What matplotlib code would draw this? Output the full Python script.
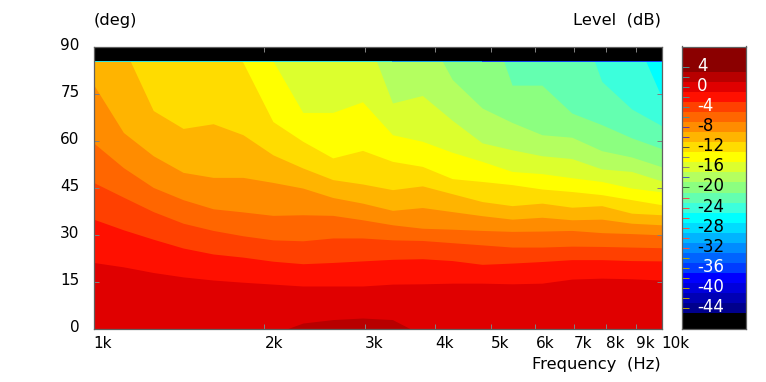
import matplotlib
matplotlib.use('Agg')
import matplotlib.pyplot as plt
import numpy as np
from matplotlib.transforms import ScaledTranslation

# frequency columns of the measurement (Hz)
freqs = [1000, 1129, 1274, 1438, 1624, 1833, 2069, 2336, 2637, 2976,
         3360, 3793, 4281, 4833, 5456, 6158, 6952, 7848, 8859, 10000]

# angle (deg) of each contour at each frequency
# values outside 0..85 are where the contour has left the plot
contour_1 = [-2, -2, -2, -2, -2, -2, -1.6, 1.9, 3.0, 3.5, 3.0, -1.9, -2, -2, -2, -2, -2, -2, -2, -2]
contour_m1 = [21.2, 19.8, 18.0, 16.6, 15.6, 14.9, 14.3, 13.7, 13.7, 13.7, 14.3, 14.4, 14.6, 14.6, 14.4, 14.6, 15.9, 16.2, 16.0, 15.6]
contour_m3 = [35.0, 31.6, 28.6, 25.8, 23.9, 22.9, 21.6, 20.8, 21.2, 21.7, 22.2, 22.4, 21.8, 20.6, 21.0, 21.5, 22.1, 22.1, 21.8, 21.7]
contour_m5 = [46.7, 42.0, 37.4, 33.7, 31.4, 29.7, 28.4, 28.1, 29.0, 29.0, 28.4, 28.2, 27.5, 26.8, 26.1, 26.1, 26.4, 26.3, 26.1, 25.9]
contour_m7 = [59.3, 51.4, 45.1, 41.2, 38.3, 37.3, 36.2, 36.4, 36.2, 34.8, 33.2, 32.1, 31.8, 31.4, 31.1, 31.2, 31.4, 30.7, 30.4, 30.0]
contour_m9 = [77.9, 62.6, 55.2, 49.9, 48.3, 48.3, 46.7, 44.9, 41.9, 40.1, 37.8, 38.7, 37.4, 36.1, 35.0, 35.6, 34.8, 35.0, 33.7, 33.2]
contour_m11 = [110, 90, 69.6, 63.9, 65.4, 61.9, 55.5, 51.3, 47.6, 46.2, 44.4, 45.6, 43.1, 40.6, 39.3, 40.1, 38.8, 39.3, 36.9, 36.4]
contour_m13 = [110, 110, 110, 110, 95, 84.9, 66.1, 59.8, 54.5, 56.9, 53.4, 51.8, 47.9, 47.0, 46.0, 44.6, 43.8, 42.8, 41.2, 39.6]
contour_m15 = [110, 110, 110, 110, 110, 110, 85.5, 69.0, 69.0, 72.4, 61.9, 59.8, 56.3, 53.4, 50.2, 49.5, 48.2, 47.0, 44.9, 43.7]
contour_m17 = [110, 110, 110, 110, 110, 110, 110, 110, 110, 97, 72.0, 74.4, 66.5, 59.3, 57.1, 55.2, 54.3, 51.0, 50.2, 47.2]
contour_m19 = [110, 110, 110, 110, 110, 110, 110, 110, 110, 110, 110, 97, 79.5, 70.4, 65.8, 61.9, 61.1, 56.8, 54.8, 51.7]
contour_m21 = [110, 110, 110, 110, 110, 110, 110, 110, 110, 110, 110, 110, 110, 105, 77.7, 77.7, 68.8, 65.1, 60.9, 57.5]
contour_m23 = [110, 110, 110, 110, 110, 110, 110, 110, 110, 110, 110, 110, 110, 110, 110, 110, 105, 78.9, 70.1, 64.8]
contour_m25 = [110, 110, 110, 110, 110, 110, 110, 110, 110, 110, 110, 110, 110, 110, 110, 110, 110, 110, 95.6, 73.9]
contours = [contour_m1, contour_m3, contour_m5, contour_m7, contour_m9, contour_m11, contour_m13,
            contour_m15, contour_m17, contour_m19, contour_m21, contour_m23, contour_m25]

max_angle = 85.4

# colour scale, from the top of the bar downwards: one colour per 2 dB step
scale_edges = [8.1, 3, 1, -1, -3, -5, -7, -9, -11, -13, -15, -17, -19, -21, -23, -25, -27,
               -29, -31, -33, -35, -37, -39, -41, -43, -45, -48.2]
scale_colors = ['#8b0000', '#b80000', '#e00000', '#ff1000', '#ff4000', '#ff6600', '#ff8c00', '#ffb400',
                '#ffdc00', '#ffff00', '#dcff2e', '#b4ff60', '#8cff80', '#64ffb0', '#3cffdc', '#00ffff',
                '#00dcff', '#00b4ff', '#008cff', '#0064ff', '#003cff', '#0000ff', '#0000dc', '#0000b4',
                '#00008c', '#000000']
scale_ticks = list(range(4, -46, -2))
tick_colors = ['#509090'] * 6 + ['#5a3aa0'] * 2 + ['#505050', '#808080', '#808080', '#4060c0', '#307040'] \
    + ['#f05040'] * 6 + ['#b8a400'] * 6
label_colors = {4: 'white', 0: 'white', -4: 'white', -8: 'black', -12: 'black', -16: 'black', -20: 'black',
                -24: 'black', -28: 'black', -32: 'black', -36: 'white', -40: 'white', -44: 'white'}

x_ticks = [1000, 2000, 3000, 4000, 5000, 6000, 7000, 8000, 9000, 10000]
x_labels = ['1k', '2k', '3k', '4k', '5k', '6k', '7k', '8k', '9k', '10k']
y_ticks = [0, 15, 30, 45, 60, 75, 90]

W, H = 766, 382
FS = 11
FS_TITLE = 11.8
FS_BAR = 12
frame = '#606060'

fig = plt.figure(figsize=(W / 100, H / 100), dpi=100)
ax = fig.add_axes([93.5 / W, 1 - 329 / H, 568 / W, 282.5 / H])
cax = fig.add_axes([681.5 / W, 1 - 329 / H, 64 / W, 282.5 / H])

# filled contour bands, each one painted over the previous
ax.set_facecolor(scale_colors[2])
ax.fill_between(freqs, -5, contour_1, color=scale_colors[1], lw=0)
for c, col in zip(contours, scale_colors[3:]):
    ax.fill_between(freqs, c, 120, color=col, lw=0)
ax.axhspan(max_angle, 90, color='black', lw=0)

# thin line left at the edge of the data
ax.plot([1000, 3360], [max_angle, max_angle], color='#30e0e0', lw=0.72)
ax.plot([3360, 4833], [max_angle, max_angle], color='#10a0f0', lw=0.72)
ax.plot([4833, 10000], [max_angle, max_angle], color='#1040f0', lw=0.72)

ax.set_xscale('log')
ax.set_xlim(1000, 10000)
ax.set_ylim(0, 90)
ax.set_xticks(x_ticks, x_labels, fontsize=FS)
ax.minorticks_off()
ax.set_yticks(y_ticks, [str(v) for v in y_ticks], fontsize=FS)
ax.tick_params(axis='both', direction='in', length=3.6, width=0.72, color='#808080', top=True, right=True)
ax.tick_params(axis='x', pad=4.7)
ax.tick_params(axis='y', pad=10)
for lbl in ax.get_xticklabels():
    lbl.set_ha('left')
for lbl in ax.get_yticklabels():
    lbl.set_transform(lbl.get_transform() + ScaledTranslation(0, 3 / 100, fig.dpi_scale_trans))
for s in ax.spines.values():
    s.set_color(frame)
    s.set_linewidth(0.9)

# colour bar
cax.pcolormesh([0, 1], scale_edges, np.arange(len(scale_colors)).reshape(-1, 1),
               cmap=matplotlib.colors.ListedColormap(scale_colors), shading='flat')
cax.set_xlim(0, 1)
cax.set_ylim(-48.2, 8.1)
cax.set_xticks([])
cax.set_yticks(scale_ticks, [str(v) if v in label_colors else '' for v in scale_ticks], fontsize=FS_BAR)
cax.tick_params(axis='y', direction='in', length=5.2, width=0.72, pad=-11.2)
for tick, col, v in zip(cax.yaxis.get_major_ticks(), tick_colors, scale_ticks):
    tick.tick1line.set_markeredgecolor(col)
    tick.label1.set_ha('left')
    tick.label1.set_transform(tick.label1.get_transform() + ScaledTranslation(0, 3 / 100, fig.dpi_scale_trans))
    if v in label_colors:
        tick.label1.set_color(label_colors[v])
for s in cax.spines.values():
    s.set_color(frame)
    s.set_linewidth(0.9)

fig.text(93.5 / W, 1 - 20 / H, '(deg)', fontsize=FS_TITLE, ha='left', va='center')
fig.text(661 / W, 1 - 20 / H, 'Level  (dB)', fontsize=FS_TITLE, ha='right', va='center')
fig.text(661 / W, 1 - 364 / H, 'Frequency  (Hz)', fontsize=FS_TITLE, ha='right', va='center')

fig.savefig('out.png', dpi=100)
